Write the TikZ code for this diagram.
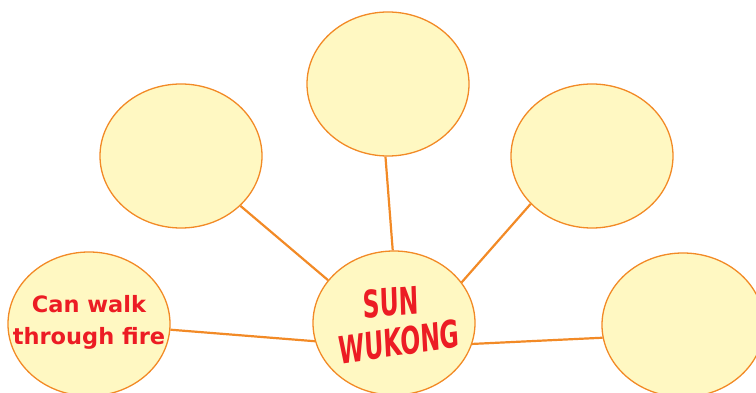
\documentclass[tikz,border=0pt]{standalone}
\usepackage{fontspec}
\setmainfont{DejaVu Sans}
\usetikzlibrary{shapes.geometric}
\definecolor{bubblefill}{HTML}{FFF8C2}
\definecolor{bubbleline}{HTML}{F28A26}
\definecolor{wordred}{HTML}{EC1C24}
\begin{document}
\begin{tikzpicture}[x=1pt, y=-1pt,
    bubble/.style={ellipse, draw=bubbleline, fill=bubblefill, line width=1.3pt,
                   minimum width=162pt, minimum height=144pt, inner sep=0pt},
    spoke/.style={draw=bubbleline, line width=2.2pt},
    fact/.style={text=wordred, font=\bfseries\fontsize{22.5}{32}\selectfont, align=center, inner sep=0pt},
    title/.style={text=wordred, font=\bfseries\fontsize{38}{38}\selectfont, xscale=0.62, inner sep=0pt}]
    \useasboundingbox (0,0) rectangle (756,393);

    % Bubbles
    \node[bubble] (hub)   at (394,323) {};
    \node[bubble] (top)   at (388,84)  {};
    \node[bubble] (uleft) at (181,156) {};
    \node[bubble] (uright) at (592,156) {};
    \node[bubble] (left)  at (89,324)  {};
    \node[bubble] (right) at (683,325) {};

    % Spokes
    \draw[spoke] (uleft.320) -- (hub.147);
    \draw[spoke] (top.268) -- (hub.91);
    \draw[spoke] (uright.218) -- (hub.31);
    \draw[spoke] (left.356) -- (hub.193);
    \draw[spoke] (right.189) -- (hub.345);

    % Labels
    \node[fact] (walk) at (89,322) {Can walk\\through fire};
    \node[title, rotate=3] (sun) at (391,302) {SUN};
    \node[title, rotate=5] (wukong) at (399,342) {WUKONG};
\end{tikzpicture}
\end{document}
